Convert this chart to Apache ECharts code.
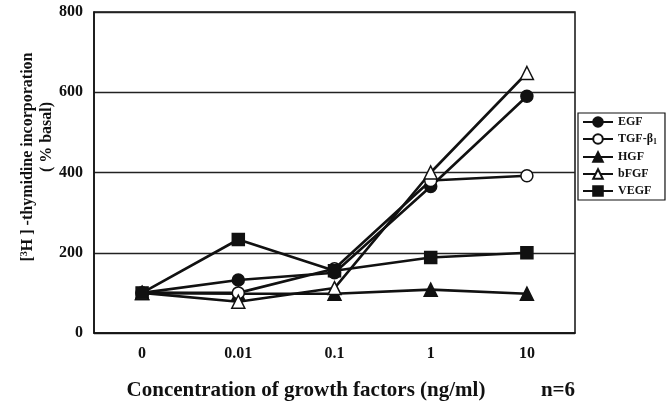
<!DOCTYPE html>
<html><head><meta charset="utf-8">
<script src="https://cdn.jsdelivr.net/npm/echarts@6/dist/echarts.min.js"></script>
<style>html,body{margin:0;padding:0;background:#fff}#c{width:667px;height:404px}</style>
</head><body><div id="c"></div>
<script>
const categories = ['0', '0.01', '0.1', '1', '10'];
const EGF  = [100, 132, 150, 365, 590];
const TGF  = [100, 100, 160, 380, 392];
const HGF  = [100,  98,  98, 108,  98];
const bFGF = [100,  78, 112, 400, 648];
const VEGF = [100, 233, 155, 188, 200];
const yTicks = [0, 200, 400, 600, 800];

const FF = '"Liberation Serif", "Times New Roman", serif';
const chart = echarts.init(document.getElementById('c'), null, {renderer: 'canvas'});

function ser(name, data, symbol, fill, size) {
  return {
    name, type: 'line', data, symbol, symbolSize: size, showSymbol: true,
    lineStyle: {color: '#111', width: 2.6},
    itemStyle: {color: fill, borderColor: '#111', borderWidth: 1.5},
    emphasis: {disabled: true}, animation: false
  };
}

chart.setOption({
  animation: false,
  backgroundColor: '#fff',
  grid: {left: 94, right: 92, top: 12, bottom: 71, show: true, borderColor: '#111', borderWidth: 1.5, backgroundColor: 'transparent'},
  xAxis: {
    type: 'category', data: categories, boundaryGap: true,
    axisLine: {lineStyle: {color: '#111', width: 1.5}},
    axisTick: {show: false},
    axisLabel: {color: '#111', fontFamily: FF, fontWeight: 'bold', fontSize: 16, margin: 13}
  },
  yAxis: {
    type: 'value', min: 0, max: 800, interval: 200,
    axisLine: {show: true, lineStyle: {color: '#111', width: 1.5}},
    axisTick: {show: false},
    splitLine: {show: true, lineStyle: {color: '#222', width: 1.3}},
    axisLabel: {color: '#111', fontFamily: FF, fontWeight: 'bold', fontSize: 16, margin: 11,
      formatter: v => yTicks.includes(v) ? String(v) : ''}
  },
  legend: {
    orient: 'vertical', left: 578, top: 113,
    backgroundColor: '#fff', borderColor: '#111', borderWidth: 1.2,
    padding: [3, 8, 3, 4], itemGap: 5, itemWidth: 30, itemHeight: 12,
    textStyle: {color: '#111', fontFamily: FF, fontWeight: 'bold', fontSize: 12,
      rich: {n: {fontFamily: FF, fontWeight: 'bold', fontSize: 12, color: '#111'},
             sub: {fontFamily: FF, fontWeight: 'bold', fontSize: 8, color: '#111', verticalAlign: 'bottom', padding: [6, 0, 0, 0]}}},
    formatter: name => name === 'TGF-β1' ? '{n|TGF-β}{sub|1}' : '{n|' + name + '}',
    data: ['EGF', 'TGF-β1', 'HGF', 'bFGF', 'VEGF']
  },
  graphic: [
    {type: 'text', x: 28, y: 157, rotation: Math.PI / 2, z: 10,
      style: {text: '{n|[}{sup|3}{n|H ] -thymidine incorporation}', align: 'center', verticalAlign: 'middle',
        rich: {n: {font: 'bold 16px ' + FF, fill: '#111'}, sup: {font: 'bold 10px ' + FF, fill: '#111', padding: [0, 0, 7, 0]}}}},
    {type: 'text', x: 47, y: 137, rotation: Math.PI / 2, z: 10,
      style: {text: '( % basal)', font: 'bold 16px ' + FF, fill: '#111', align: 'center', verticalAlign: 'middle'}},
    {type: 'text', x: 306, y: 391, z: 10,
      style: {text: 'Concentration of growth factors (ng/ml)', font: 'bold 21px ' + FF, fill: '#111', align: 'center', verticalAlign: 'middle'}},
    {type: 'text', x: 558, y: 391, z: 10,
      style: {text: 'n=6', font: 'bold 21px ' + FF, fill: '#111', align: 'center', verticalAlign: 'middle'}}
  ],
  series: [
    ser('HGF', HGF, 'triangle', '#111', 13),
    ser('EGF', EGF, 'circle', '#111', 12),
    ser('TGF-β1', TGF, 'circle', '#fff', 12),
    ser('bFGF', bFGF, 'triangle', '#fff', 13),
    ser('VEGF', VEGF, 'rect', '#111', 12)
  ]
});
</script></body></html>
